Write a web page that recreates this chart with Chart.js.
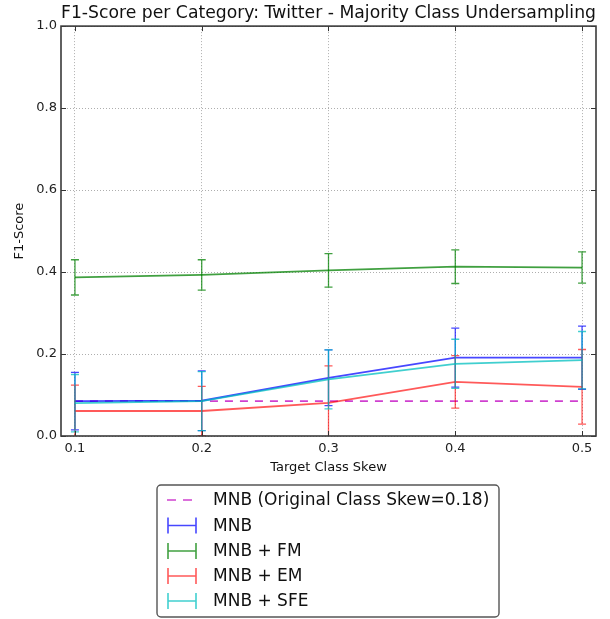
<!DOCTYPE html>
<html>
<head>
<meta charset="utf-8">
<title>F1-Score per Category: Twitter - Majority Class Undersampling</title>
<script src="https://cdn.jsdelivr.net/npm/chart.js@4.4.1/dist/chart.umd.min.js"></script>
<style>
  html, body { margin: 0; padding: 0; background: #fff; }
  #wrap { width: 610px; height: 619px; position: relative; }
</style>
</head>
<body>
<div id="wrap"><canvas id="chart" width="610" height="619"></canvas></div>
<script>
// Target class skew values on the x axis
const skew = [0.1, 0.2, 0.3, 0.4, 0.5];
const xTicks = [0.1, 0.2, 0.3, 0.4, 0.5];
const yTicks = [0.0, 0.2, 0.4, 0.6, 0.8, 1.0];

// Baseline: MNB trained at the original class skew (0.18)
const mnbOriginal = [0.085, 0.085, 0.085, 0.085, 0.085];

// Mean F1 per method and standard deviation
const mnb = [0.085, 0.086, 0.142, 0.191, 0.191];
const mnbErr = [0.070, 0.073, 0.068, 0.072, 0.077];

const mnbFm = [0.387, 0.393, 0.404, 0.413, 0.411];
const mnbFmErr = [0.043, 0.037, 0.041, 0.041, 0.038];

const mnbEm = [0.061, 0.061, 0.081, 0.132, 0.120];
const mnbEmErr = [0.063, 0.060, 0.090, 0.064, 0.091];

const mnbSfe = [0.080, 0.085, 0.138, 0.176, 0.185];
const mnbSfeErr = [0.070, 0.072, 0.072, 0.060, 0.070];

const seriesNames = [
  'MNB (Original Class Skew=0.18)',
  'MNB',
  'MNB + FM',
  'MNB + EM',
  'MNB + SFE'
];

const FONT = "'DejaVu Sans', 'Liberation Sans', sans-serif";
Chart.defaults.font.family = FONT;
Chart.defaults.color = '#222';

const C_MAG = 'rgba(191, 0, 191, 0.75)';
const C_BLUE = 'rgba(0, 0, 255, 0.72)';
const C_GREEN = 'rgba(0, 128, 0, 0.75)';
const C_RED = 'rgba(255, 0, 0, 0.65)';
const C_CYAN = 'rgba(0, 191, 191, 0.75)';

const toPoints = ys => skew.map((x, i) => ({ x: x, y: ys[i] }));

function series(label, ys, errs, color, order, dash) {
  return {
    label: label,
    data: toPoints(ys),
    errors: errs,
    borderColor: color,
    backgroundColor: color,
    borderWidth: 1.8,
    borderDash: dash || [],
    pointRadius: 0,
    pointHoverRadius: 0,
    tension: 0,
    fill: false,
    order: order
  };
}

// Vertical error bars with caps, drawn right after their own line
const errorBars = {
  id: 'errorBars',
  afterDatasetDraw(chart, args) {
    const ds = chart.data.datasets[args.index];
    if (!ds.errors) return;
    const { ctx, chartArea, scales } = chart;
    ctx.save();
    ctx.beginPath();
    ctx.rect(chartArea.left, chartArea.top, chartArea.right - chartArea.left, chartArea.bottom - chartArea.top);
    ctx.clip();
    ctx.strokeStyle = ds.borderColor;
    ctx.lineWidth = 1.3;
    ds.data.forEach((p, i) => {
      const e = ds.errors[i];
      const px = scales.x.getPixelForValue(p.x);
      const yTop = scales.y.getPixelForValue(p.y + e);
      const yBot = scales.y.getPixelForValue(p.y - e);
      ctx.beginPath();
      ctx.moveTo(px, yTop); ctx.lineTo(px, yBot);
      ctx.moveTo(px - 4, yTop); ctx.lineTo(px + 4, yTop);
      ctx.moveTo(px - 4, yBot); ctx.lineTo(px + 4, yBot);
      ctx.stroke();
    });
    ctx.restore();
  }
};

// Axes frame, inward tick marks and the boxed legend below the plot
const frameAndLegend = {
  id: 'frameAndLegend',
  afterDraw(chart) {
    const { ctx, chartArea: a, scales } = chart;
    ctx.save();
    ctx.strokeStyle = '#333';
    ctx.lineWidth = 1;
    ctx.beginPath();
    scales.x.ticks.forEach(t => {
      const px = Math.round(scales.x.getPixelForValue(t.value)) + 0.5;
      ctx.moveTo(px, a.bottom); ctx.lineTo(px, a.bottom - 5);
      ctx.moveTo(px, a.top); ctx.lineTo(px, a.top + 5);
    });
    scales.y.ticks.forEach(t => {
      const py = Math.round(scales.y.getPixelForValue(t.value)) + 0.5;
      ctx.moveTo(a.left, py); ctx.lineTo(a.left + 5, py);
      ctx.moveTo(a.right, py); ctx.lineTo(a.right - 5, py);
    });
    ctx.stroke();
    ctx.lineWidth = 1.6;
    ctx.strokeStyle = '#3a3a3a';
    ctx.strokeRect(a.left, a.top, a.right - a.left, a.bottom - a.top);

    // legend box
    const bx = 157, by = 485, bw = 342, bh = 132;
    ctx.beginPath();
    ctx.roundRect(bx, by, bw, bh, 4);
    ctx.fillStyle = '#fff';
    ctx.fill();
    ctx.lineWidth = 1.4;
    ctx.strokeStyle = '#555';
    ctx.stroke();

    const rowY = [500, 525.5, 551, 576, 601];
    ctx.font = '17px ' + FONT;
    ctx.textBaseline = 'middle';
    ctx.textAlign = 'left';
    chart.data.datasets.forEach((ds, i) => {
      const y = rowY[i];
      ctx.strokeStyle = ds.borderColor;
      if (ds.errors) {
        ctx.lineWidth = 1.6;
        ctx.setLineDash([]);
        ctx.beginPath();
        ctx.moveTo(168, y); ctx.lineTo(196, y);
        ctx.moveTo(168, y - 8); ctx.lineTo(168, y + 8);
        ctx.moveTo(196, y - 8); ctx.lineTo(196, y + 8);
        ctx.stroke();
      } else {
        ctx.lineWidth = 1.4;
        ctx.setLineDash([9, 7]);
        ctx.beginPath();
        ctx.moveTo(167, y); ctx.lineTo(193, y);
        ctx.stroke();
        ctx.setLineDash([]);
      }
      ctx.fillStyle = '#111';
      ctx.fillText(ds.label, 213, y + 1);
    });
    ctx.restore();
  }
};

new Chart(document.getElementById('chart'), {
  type: 'line',
  data: {
    datasets: [
      series(seriesNames[0], mnbOriginal, null, C_MAG, 5, [8, 7]),
      series(seriesNames[1], mnb, mnbErr, C_BLUE, 4),
      series(seriesNames[2], mnbFm, mnbFmErr, C_GREEN, 3),
      series(seriesNames[3], mnbEm, mnbEmErr, C_RED, 2),
      series(seriesNames[4], mnbSfe, mnbSfeErr, C_CYAN, 1)
    ]
  },
  options: {
    responsive: false,
    animation: false,
    events: [],
    layout: { padding: { top: 0, right: 14, bottom: 138, left: 0 } },
    plugins: {
      legend: { display: false },
      tooltip: { enabled: false },
      title: {
        display: true,
        fullSize: false,
        text: 'F1-Score per Category: Twitter - Majority Class Undersampling',
        color: '#111',
        font: { size: 17.6, weight: 'normal' },
        padding: { top: 3, bottom: 2 }
      }
    },
    scales: {
      x: {
        type: 'linear',
        min: 0.089,
        max: 0.511,
        afterBuildTicks: s => { s.ticks = xTicks.map(v => ({ value: v })); },
        afterFit: s => { s.height = 45; },
        ticks: {
          callback: v => Number(v).toFixed(1),
          font: { size: 13 },
          color: '#222',
          padding: 5,
          maxRotation: 0,
          autoSkip: false
        },
        grid: { color: 'rgba(0,0,0,0.4)', lineWidth: 0.8, drawTicks: false },
        border: { display: false, dash: [1, 2] },
        title: {
          display: true,
          text: 'Target Class Skew',
          font: { size: 13 },
          color: '#111',
          padding: { top: 0, bottom: 6 }
        }
      },
      y: {
        type: 'linear',
        min: 0,
        max: 1,
        afterBuildTicks: s => { s.ticks = yTicks.map(v => ({ value: v })); },
        afterFit: s => { s.width = 61; },
        ticks: {
          callback: v => Number(v).toFixed(1),
          font: { size: 13 },
          color: '#222',
          padding: 4
        },
        grid: { color: 'rgba(0,0,0,0.4)', lineWidth: 0.8, drawTicks: false },
        border: { display: false, dash: [1, 2] },
        title: {
          display: true,
          text: 'F1-Score',
          font: { size: 13 },
          color: '#111',
          padding: { top: 12, bottom: 0 }
        }
      }
    }
  },
  plugins: [errorBars, frameAndLegend]
});
</script>
</body>
</html>
